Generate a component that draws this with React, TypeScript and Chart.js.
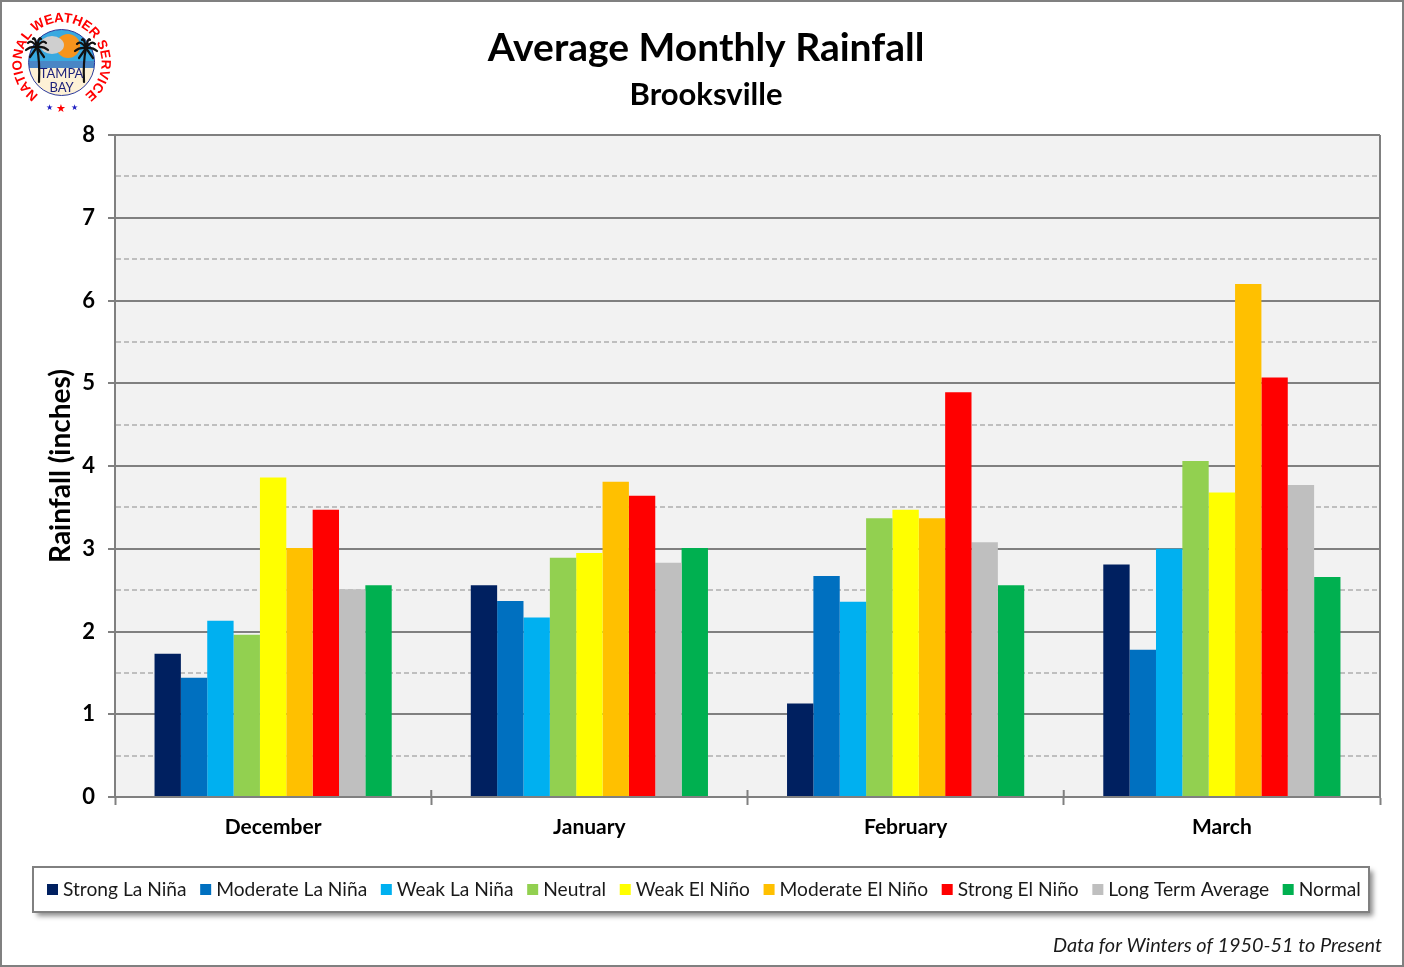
import React, { useEffect, useRef } from 'react'
import Chart from 'chart.js/auto'

const months = ['December', 'January', 'February', 'March']
const strongLaNina = [1.73, 2.56, 1.13, 2.81]
const moderateLaNina = [1.44, 2.37, 2.67, 1.78]
const weakLaNina = [2.13, 2.17, 2.36, 3.0]
const neutral = [1.96, 2.89, 3.37, 4.06]
const weakElNino = [3.86, 2.95, 3.47, 3.68]
const moderateElNino = [3.01, 3.81, 3.37, 6.2]
const strongElNino = [3.47, 3.64, 4.89, 5.07]
const longTermAverage = [2.51, 2.83, 3.08, 3.77]
const normal = [2.56, 3.01, 2.56, 2.66]

const seriesNames = ['Strong La Niña', 'Moderate La Niña', 'Weak La Niña', 'Neutral', 'Weak El Niño', 'Moderate El Niño', 'Strong El Niño', 'Long Term Average', 'Normal']
const seriesColors = ['#002060', '#0070c0', '#00b0f0', '#92d050', '#ffff00', '#ffc000', '#ff0000', '#bfbfbf', '#00b050']
const seriesValues = [strongLaNina, moderateLaNina, weakLaNina, neutral, weakElNino, moderateElNino, strongElNino, longTermAverage, normal]

const FONT = 'Lato, "Open Sans", sans-serif'
const GRAY = '#808080'
const footNote = 'Data for Winters of 1950-51 to Present'

// frame, plot background, legend box and the bits of axis the library doesn't do
const decorations = {
  id: 'decorations',
  beforeDraw(chart: Chart) {
    const { ctx, chartArea: a, width, height } = chart
    ctx.save()
    ctx.fillStyle = '#fff'
    ctx.fillRect(0, 0, width, height)
    ctx.strokeStyle = GRAY
    ctx.lineWidth = 2
    ctx.strokeRect(1, 1, width - 2, height - 2)
    ctx.fillStyle = '#f2f2f2'
    ctx.fillRect(a.left, a.top, a.width, a.height)
    ctx.restore()
  },
  afterDraw(chart: Chart) {
    const { ctx, chartArea: a, scales } = chart
    ctx.save()
    ctx.strokeStyle = GRAY
    ctx.lineWidth = 2
    ctx.beginPath()
    ctx.moveTo(a.right, a.top)
    ctx.lineTo(a.right, a.bottom)
    // ticks between the months also poke up into the plot
    for (let i = 1; i < months.length; i++) {
      const x = (scales.x.getPixelForValue(i - 1) + scales.x.getPixelForValue(i)) / 2
      ctx.moveTo(x, a.bottom - 7)
      ctx.lineTo(x, a.bottom)
    }
    ctx.stroke()

    // legend
    ctx.shadowColor = 'rgba(0,0,0,0.45)'
    ctx.shadowBlur = 5
    ctx.shadowOffsetX = 4
    ctx.shadowOffsetY = 4
    ctx.fillStyle = '#fff'
    ctx.fillRect(33, 867, 1336, 45)
    ctx.shadowColor = 'transparent'
    ctx.strokeRect(33, 867, 1336, 45)
    ctx.font = '19.2px ' + FONT
    ctx.textBaseline = 'middle'
    let x = 47
    seriesNames.forEach((name, i) => {
      ctx.fillStyle = seriesColors[i]
      ctx.fillRect(x, 884, 11, 11)
      ctx.fillStyle = '#1a1a1a'
      ctx.fillText(name, x + 16, 890)
      x += 16 + ctx.measureText(name).width + 13.6
    })

    ctx.font = 'italic 19.9px ' + FONT
    ctx.textAlign = 'right'
    ctx.fillText(footNote, 1382, 946)
    ctx.restore()
  },
}

function Palm({ x, y, foot }: { x: number; y: number; foot: number }) {
  const fronds = [[-11, 3], [-9, -4], [-4, -8], [4, -8], [9, -4], [11, 3], [-7, 10], [7, 10]]
  return (
    <g stroke="#111" fill="none" strokeLinecap="round">
      <path d={`M${foot} 82 Q${(foot + x) / 2 + (foot < x ? -2 : 2)} 62 ${x} ${y}`} strokeWidth={2.2} />
      {fronds.map(([dx, dy], i) => (
        <path key={i} d={`M${x} ${y} Q${x + dx * 0.6} ${y + dy - 4} ${x + dx} ${y + dy}`} strokeWidth={2.2} />
      ))}
    </g>
  )
}

function Logo() {
  return (
    <svg width={124} height={124} viewBox="0 0 124 124" style={{ position: 'absolute', left: 0, top: 0 }}>
      <defs>
        <path id="ring" d="M38.7 95 A40 40 0 1 1 84.5 95" />
        <clipPath id="disc"><circle cx={61.6} cy={62.5} r={33} /></clipPath>
      </defs>
      <g clipPath="url(#disc)">
        <rect x={25} y={25} width={75} height={36} fill="#39a9e0" />
        <rect x={25} y={61} width={75} height={8} fill="#4a86c5" />
        <rect x={25} y={68} width={75} height={30} fill="#fdf1d6" />
        <circle cx={68} cy={46} r={12} fill="#f7941d" />
        <ellipse cx={52} cy={45} rx={12} ry={9} fill="#cfcfcf" />
      </g>
      <circle cx={61.6} cy={62.5} r={33} fill="none" stroke="#2b3a9b" strokeWidth={1} />
      <Palm x={37} y={47} foot={39} />
      <Palm x={86} y={48} foot={84} />
      <text x={61.6} y={78} textAnchor="middle" fontSize={13} fontFamily={FONT} fill="#1b1f7a">TAMPA</text>
      <text x={61.6} y={92} textAnchor="middle" fontSize={13} fontFamily={FONT} fill="#1b1f7a">BAY</text>
      <text fontSize={13.5} fontWeight="bold" fontFamily='"Liberation Sans Narrow", "Liberation Sans"' fill="#ff0000">
        <textPath href="#ring" textLength={202} lengthAdjust="spacing">NATIONAL WEATHER SERVICE</textPath>
      </text>
      <text x={49} y={110} textAnchor="middle" fontSize={8} fill="#1c1cc0">★</text>
      <text x={61} y={112} textAnchor="middle" fontSize={11} fill="#ff0000">★</text>
      <text x={74} y={110} textAnchor="middle" fontSize={8} fill="#1c1cc0">★</text>
    </svg>
  )
}

export default function App() {
  const canvasRef = useRef<HTMLCanvasElement>(null)

  useEffect(() => {
    if (!canvasRef.current) return
    const chart = new Chart(canvasRef.current, {
      type: 'bar',
      data: {
        labels: months,
        datasets: seriesNames.map((name, i) => ({
          label: name,
          data: seriesValues[i],
          backgroundColor: seriesColors[i],
          categoryPercentage: 0.75,
          barPercentage: 1,
        })),
      },
      options: {
        responsive: false,
        animation: false,
        layout: { padding: { left: 32, right: 24, top: 0, bottom: 100 } },
        plugins: {
          legend: { display: false },
          tooltip: { enabled: false },
          title: {
            display: true,
            text: 'Average Monthly Rainfall',
            color: '#000',
            font: { family: FONT, size: 39, weight: 'bold', lineHeight: 1 },
            padding: { top: 29, bottom: 0 },
          },
          subtitle: {
            display: true,
            text: 'Brooksville',
            color: '#000',
            font: { family: FONT, size: 31, weight: 'bold', lineHeight: 1 },
            padding: { top: 11, bottom: 25 },
          },
        },
        scales: {
          x: {
            afterFit: (s: any) => { s.height = 70 },
            grid: { offset: true, drawOnChartArea: false, tickColor: GRAY, tickWidth: 2, tickLength: 8 },
            border: { color: GRAY, width: 2 },
            ticks: { color: '#000', font: { family: FONT, size: 21, weight: 'bold' }, padding: 10 },
          },
          y: {
            min: 0,
            max: 8,
            afterFit: (s: any) => { s.width = 83 },
            title: {
              display: true,
              text: 'Rainfall (inches)',
              color: '#000',
              font: { family: FONT, size: 28, weight: 'bold' },
              padding: { top: 12, bottom: 0 },
            },
            grid: {
              color: (c: any) => (Number.isInteger(c.tick.value) ? GRAY : '#bfbfbf'),
              lineWidth: 2,
              tickColor: (c: any) => (Number.isInteger(c.tick.value) ? GRAY : 'transparent'),
              tickWidth: 2,
              tickLength: 7,
            },
            border: {
              color: GRAY,
              width: 2,
              dash: (c: any) => (c.tick && !Number.isInteger(c.tick.value) ? [5, 3] : []),
            },
            ticks: {
              stepSize: 0.5,
              autoSkip: false,
              color: '#000',
              font: { family: FONT, size: 22, weight: 'bold' },
              padding: 13,
              callback: (v: any) => (Number.isInteger(v) ? String(v) : ''),
            },
          },
        },
      },
      plugins: [decorations],
    })
    return () => chart.destroy()
  }, [])

  return (
    <div style={{ position: 'absolute', left: 0, top: 0, width: 1404, height: 967 }}>
      <canvas ref={canvasRef} width={1404} height={967} style={{ display: 'block' }} />
      <Logo />
    </div>
  )
}
